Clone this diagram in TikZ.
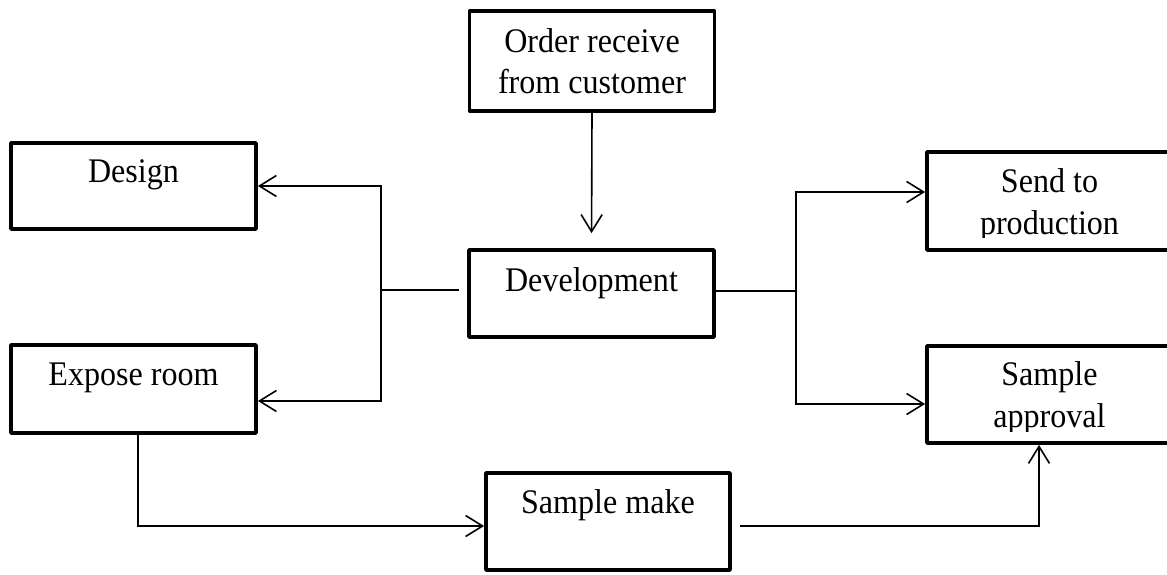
\documentclass[tikz,border=0pt]{standalone}
\usepackage{fontspec}
\setmainfont[FakeStretch=0.93]{Liberation Serif}
\usetikzlibrary{arrows.meta}

\begin{document}
\begin{tikzpicture}[
  x=1pt, y=-1pt,
  box/.style={draw, rectangle, line width=3.8pt, line join=round, inner sep=0pt,
              minimum width=245pt},
  lbl/.style={inner sep=0pt, anchor=base, font=\fontsize{34.5}{41}\selectfont},
  conn/.style={line width=1.6pt},
  arr/.style={conn, -{Straight Barb[length=17pt,width=21pt]}}
]
\useasboundingbox[fill=white] (0,0) rectangle (1167,574);

% boxes
\node[box, minimum height=100pt] (order)  at (592,61)      {};
\node[box, minimum height=86pt]  (design) at (133.5,186)   {};
\node[box, minimum height=87pt]  (dev)    at (591.5,293.5) {};
\node[box, minimum height=88pt]  (expose) at (133.5,389)   {};
\node[box, minimum height=97pt, minimum width=244pt] (make) at (608,521.5) {};
\node[box, minimum height=98pt]  (send)   at (1049.5,201)  {};
\node[box, minimum height=97pt]  (appr)   at (1049.5,394.5) {};

% labels
\node[lbl] (orderA)  at ([yshift=-43pt]order.north)  {Order receive};
\node[lbl] (orderB)  at ([yshift=-84pt]order.north)  {from customer};
\node[lbl] (designA) at ([yshift=-41pt]design.north) {Design};
\node[lbl] (devA)    at ([yshift=-43pt]dev.north)    {Development};
\node[lbl] (exposeA) at ([yshift=-42pt]expose.north) {Expose room};
\node[lbl] (makeA)   at ([yshift=-42pt]make.north)   {Sample make};
\begin{scope}
  \clip (900,140) rectangle (1200,237.5);
  \node[lbl] (sendA) at ([yshift=-42pt]send.north) {Send to};
  \node[lbl] (sendB) at ([yshift=-84pt]send.north) {production};
\end{scope}
\begin{scope}
  \clip (900,330) rectangle (1200,431);
  \node[lbl] (apprA) at ([yshift=-41pt]appr.north) {Sample};
  \node[lbl] (apprB) at ([yshift=-83pt]appr.north) {approval};
\end{scope}

% junction points
\coordinate (jl) at (381,290);
\coordinate (jr) at (796,291);
\coordinate (devL) at ([xshift=-8pt]dev.west);

% connectors
\draw[arr, shorten >=15pt] (order.south) -- (dev.north);
\draw[conn] (devL |- jl) -- (jl);
\draw[arr] (jl) |- (design.east);
\draw[arr] (jl) |- ([yshift=-12pt]expose.east);
\draw[conn] (dev.east |- jr) -- (jr);
\draw[arr] (jr) |- ([yshift=9pt]send.west);
\draw[arr] (jr) |- ([yshift=-9.5pt]appr.west);
\draw[arr] ([xshift=4.5pt]expose.south) |- ([yshift=-4.5pt]make.west);
\draw[arr] ([xshift=8pt,yshift=-4.5pt]make.east) -| ([xshift=-10.5pt]appr.south);
\end{tikzpicture}
\end{document}
